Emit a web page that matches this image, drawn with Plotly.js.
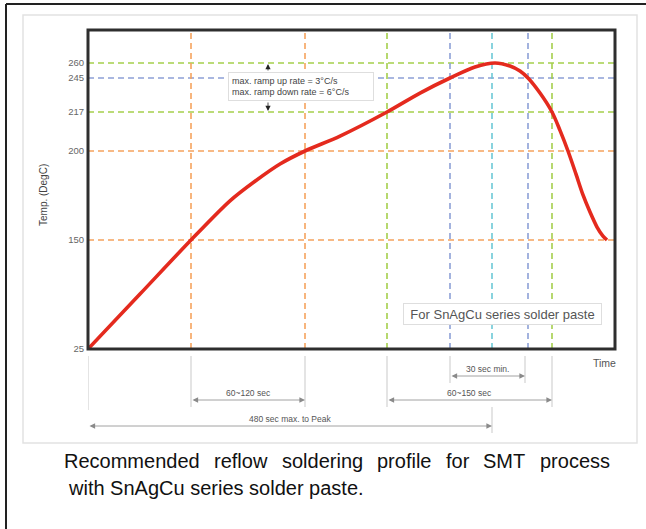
<!DOCTYPE html>
<html>
<head>
<meta charset="utf-8">
<script src="https://cdn.plot.ly/plotly-3.0.1.min.js"></script>
<style>html,body{margin:0;padding:0;background:#fff}#chart{width:646px;height:529px}</style>
</head>
<body>
<div id="chart"></div>
<script>
// ---------- data ----------
// schematic time position (arbitrary units, 0 = start of profile)
const profileTime = [0, 52, 103, 142, 167, 192, 217, 252, 299, 332, 362, 387, 407, 422, 432, 440, 452, 464, 472, 480, 488, 495, 502, 509, 515, 519];
// temperature (DegC)
const profileTemp = [25, 88, 150, 172, 183, 192.7, 200, 206.5, 217, 232.6, 245, 256, 260, 257, 252, 245, 232.6, 217, 209, 200, 187, 175.3, 165.7, 157.3, 152.2, 150];

const yTickTemps = [25, 150, 200, 217, 245, 260];
const yTickLabels = ['25', '150', '200', '217', '245', '260'];

const refTemps = [150, 200, 217, 245, 260];
const refTempColors = ['#f5a35e', '#f5a35e', '#a5cf4c', '#8da0d6', '#a5cf4c'];
const refTimes = [103, 217, 299, 362, 404, 440, 464];
const refTimeColors = ['#f5a35e', '#f5a35e', '#a5cf4c', '#8da0d6', '#6cc9d6', '#8da0d6', '#a5cf4c'];

const noteText = 'max. ramp up rate = 3°C/s<br>max. ramp down rate = 6°C/s';
const pasteText = 'For SnAgCu series solder paste';
const dimLabels = ['60~120 sec', '30 sec min.', '60~150 sec', '480 sec max. to Peak'];
const dimStart = [103, 362, 299, 0];
const dimEnd = [217, 437, 464, 404];
const captionLine1 = 'Recommended reflow soldering profile for SMT process';
const captionLine2 = 'with SnAgCu series solder paste.';

// ---------- schematic (non-linear) temperature scale ----------
const tempAnchors = [25, 150, 200, 217, 245, 260, 293];
const posAnchors = [0, 109, 198, 237, 271, 286, 319];
function tpos(T) {
  for (let i = 0; i < tempAnchors.length - 1; i++) {
    if (T <= tempAnchors[i + 1] || i === tempAnchors.length - 2) {
      const f = (T - tempAnchors[i]) / (tempAnchors[i + 1] - tempAnchors[i]);
      return posAnchors[i] + f * (posAnchors[i + 1] - posAnchors[i]);
    }
  }
}
// page pixel -> paper helpers (plot area: x 88..615, y 30..349)
const PL = 88, PR = 615, PT = 30, PB = 349;
const px = x => (x - PL) / (PR - PL);
const py = y => (PB - y) / (PB - PT);
const tx = x => x - PL; // pixel -> time units (1 unit per px)

const shapes = [];
const annotations = [];

// dashed reference lines
refTemps.forEach((T, i) => shapes.push({type: 'line', layer: 'below', xref: 'paper', yref: 'y', x0: 0, x1: 1, y0: tpos(T), y1: tpos(T),
  line: {color: refTempColors[i], width: 1.6, dash: '6px,4px'}}));
refTimes.forEach((t, i) => shapes.push({type: 'line', layer: 'below', xref: 'x', yref: 'paper', x0: t, x1: t, y0: 0, y1: 1,
  line: {color: refTimeColors[i], width: 1.6, dash: '6px,4px'}}));

// plot frame
shapes.push({type: 'rect', xref: 'paper', yref: 'paper', x0: 0, x1: 1, y0: 0, y1: 1, line: {color: '#2e2e2e', width: 3}});

// outer page decoration
shapes.push({type: 'rect', xref: 'paper', yref: 'paper', x0: px(23), x1: px(637), y0: py(443), y1: py(15), line: {color: '#e2e2e2', width: 1.5}, layer: 'below'});
shapes.push({type: 'line', xref: 'paper', yref: 'paper', x0: px(6), x1: px(646), y0: py(4), y1: py(4), line: {color: '#222', width: 2}});
shapes.push({type: 'line', xref: 'paper', yref: 'paper', x0: px(6), x1: px(6), y0: py(4), y1: py(529), line: {color: '#222', width: 2}});

// extension lines below the axis
const extLines = [[0, 356, 410], [103, 356, 407], [217, 356, 407], [299, 356, 407], [464, 356, 407], [362, 356, 383], [437, 356, 383], [404, 407, 433]];
extLines.forEach(e => shapes.push({type: 'line', xref: 'x', yref: 'paper', x0: e[0], x1: e[0], y0: py(e[1]), y1: py(e[2]), line: {color: '#c9c9c9', width: 1}}));

// dimension arrows + labels
const dimArrowY = [400, 376, 400, 426];
const dimLabelY = [393, 369, 393, 419];
const dimLabelX = [null, null, null, 290];
dimLabels.forEach((lab, i) => {
  annotations.push({xref: 'x', yref: 'paper', x: dimEnd[i], y: py(dimArrowY[i]), axref: 'x', ayref: 'pixel', ax: dimStart[i], ay: 0,
    text: '', showarrow: true, arrowside: 'end+start', arrowhead: 2, arrowsize: 1.4, arrowwidth: 0.8, arrowcolor: '#8a8a8a', standoff: 0, startstandoff: 0});
  annotations.push({xref: 'x', yref: 'paper', x: dimLabelX[i] !== null ? tx(dimLabelX[i]) : (dimStart[i] + dimEnd[i]) / 2, y: py(dimLabelY[i]),
    text: lab, showarrow: false, xanchor: 'center', yanchor: 'middle', font: {family: 'Liberation Sans, Arial', size: 8.5, color: '#555'}});
});

// note box with tiny arrows
annotations.push({xref: 'x', yref: 'y', x: tx(301), y: PB - 86.5, text: noteText, showarrow: false, xanchor: 'center', yanchor: 'middle',
  align: 'left', width: 138, height: 21, borderpad: 3, bordercolor: '#dedede', borderwidth: 1, bgcolor: '#fff',
  font: {family: 'Liberation Sans, Arial', size: 9, color: '#444'}});
annotations.push({xref: 'x', yref: 'y', x: tx(268), y: PB - 64, axref: 'x', ayref: 'y', ax: tx(268), ay: PB - 72, text: '', showarrow: true,
  arrowhead: 2, arrowsize: 1.3, arrowwidth: 0.8, arrowcolor: '#222', standoff: 0});
annotations.push({xref: 'x', yref: 'y', x: tx(268), y: PB - 111, axref: 'x', ayref: 'y', ax: tx(268), ay: PB - 101, text: '', showarrow: true,
  arrowhead: 2, arrowsize: 1.3, arrowwidth: 0.8, arrowcolor: '#222', standoff: 0});

// paste box
annotations.push({xref: 'x', yref: 'y', x: tx(502.5), y: PB - 313.5, text: pasteText, showarrow: false, xanchor: 'center', yanchor: 'middle',
  width: 193, height: 16, borderpad: 2, bordercolor: '#dedede', borderwidth: 1, bgcolor: '#fff',
  font: {family: 'Liberation Sans, Arial', size: 13, color: '#555'}});

// axis titles
annotations.push({xref: 'paper', yref: 'paper', x: px(44), y: py(195), text: 'Temp. (DegC)', textangle: -90, showarrow: false,
  xanchor: 'center', yanchor: 'middle', font: {family: 'Liberation Sans, Arial', size: 10, color: '#444'}});
annotations.push({xref: 'paper', yref: 'paper', x: px(604), y: py(363), text: 'Time', showarrow: false,
  xanchor: 'center', yanchor: 'middle', font: {family: 'Liberation Sans, Arial', size: 10.5, color: '#555'}});

// caption (line 1 justified between x=62 and x=608)
const capFont = {family: 'Liberation Sans, Arial', size: 20, color: '#111'};
const ctx = document.createElement('canvas').getContext('2d');
ctx.font = '20px "Liberation Sans"';
const words = captionLine1.split(' ');
const ws = words.map(w => ctx.measureText(w).width);
const totalW = ws.reduce((a, b) => a + b, 0);
const gap = (608 - 62 - totalW) / (words.length - 1);
let cx = 62;
words.forEach((w, i) => {
  annotations.push({xref: 'paper', yref: 'paper', x: px(cx), y: py(461), text: w, showarrow: false, xanchor: 'left', yanchor: 'middle', font: capFont});
  cx += ws[i] + gap;
});
annotations.push({xref: 'paper', yref: 'paper', x: px(66), y: py(488), text: captionLine2, showarrow: false, xanchor: 'left', yanchor: 'middle', font: capFont});

const trace = {
  x: profileTime,
  y: profileTemp.map(tpos),
  mode: 'lines',
  line: {color: '#e42a1e', width: 3.6, shape: 'spline', smoothing: 0.8},
  hoverinfo: 'skip'
};

const layout = {
  width: 646, height: 529,
  margin: {l: PL, r: 646 - PR, t: PT, b: 529 - PB, pad: 0},
  paper_bgcolor: '#fff', plot_bgcolor: '#fff',
  showlegend: false,
  xaxis: {range: [0, PR - PL], showgrid: false, zeroline: false, showticklabels: false, ticks: '', showline: false, fixedrange: true},
  yaxis: {range: [0, PB - PT], showgrid: false, zeroline: false, showline: false, ticks: '',
    tickmode: 'array', tickvals: yTickTemps.map(tpos), ticktext: yTickLabels, ticklabelstandoff: 3,
    tickfont: {family: 'Liberation Sans, Arial', size: 9.5, color: '#666'}, fixedrange: true},
  shapes: shapes,
  annotations: annotations
};

Plotly.newPlot('chart', [trace], layout, {displayModeBar: false, staticPlot: true});
</script>
</body>
</html>
